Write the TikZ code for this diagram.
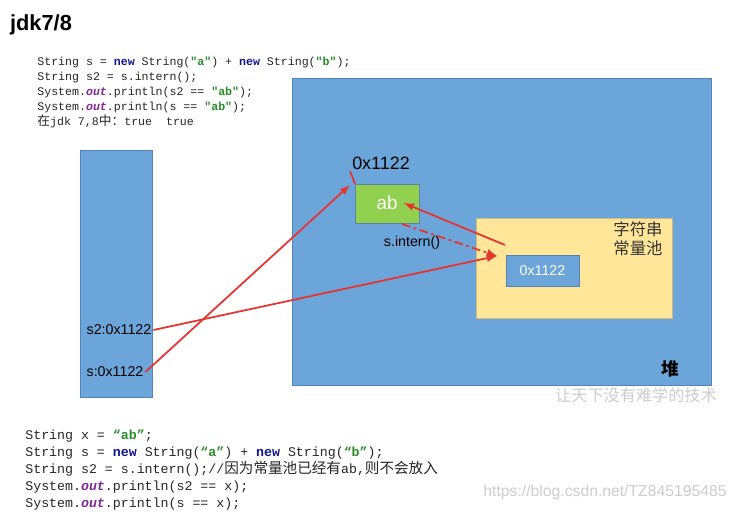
\documentclass[tikz,border=0pt]{standalone}
\usepackage{fontspec}
\setmainfont{Liberation Sans}
\setmonofont{Liberation Mono}
\newfontfamily\cjk{Noto Sans CJK SC}
\newfontfamily\cjkcode[Scale=1.1]{Noto Sans CJK SC}
\usetikzlibrary{arrows,positioning,calc}

\definecolor{stackblue}{RGB}{108,165,218}
\definecolor{edgeblue}{RGB}{82,130,185}
\definecolor{abgreen}{RGB}{146,208,80}
\definecolor{poolyellow}{RGB}{255,230,153}
\definecolor{pooledge}{RGB}{205,185,130}
\definecolor{ptrred}{RGB}{232,52,48}
\definecolor{kwblue}{RGB}{20,20,150}
\definecolor{outpurple}{RGB}{125,40,150}
\definecolor{strgreen}{RGB}{40,140,40}
\definecolor{markgray}{RGB}{205,205,205}

\newcommand{\jkw}[1]{\textcolor{kwblue}{\textbf{#1}}}
\newcommand{\jout}[1]{\textcolor{outpurple}{\textbf{\textit{#1}}}}
\newcommand{\jstr}[1]{\textcolor{strgreen}{\textbf{#1}}}

\begin{document}
\begin{tikzpicture}[x=0.02cm,y=-0.02cm,
    box/.style={draw=edgeblue,fill=stackblue,inner sep=0pt,outer sep=0pt},
    codetop/.style={anchor=base west,inner sep=0pt,text=black!85,font=\ttfamily\fontsize{6.6}{8}\selectfont},
    codebot/.style={anchor=base west,inner sep=0pt,text=black!85,font=\ttfamily\fontsize{7.55}{9}\selectfont},
    tag/.style={inner sep=1pt,font=\fontsize{8.1}{10}\selectfont},
    ptr/.style={draw=ptrred,line width=1pt,-latex}]
  \useasboundingbox[fill=white] (0,0) rectangle (737,511);

  % Title
  \node[font=\bfseries\fontsize{12.4}{14}\selectfont] (title) at (41,25) {jdk7/8};

  % Code before the picture
  \foreach \txt [count=\i] in {
    {String s = \jkw{new} String(\jstr{"a"}) + \jkw{new} String(\jstr{"b"});},
    {String s2 = s.intern();},
    {System.\jout{out}.println(s2 == \jstr{"ab"});},
    {System.\jout{out}.println(s == \jstr{"ab"});},
    {{\cjkcode 在}jdk 7,8{\cjkcode 中：}true\ \ true}} {
    \node[codetop] (top\i) at (37,50+15*\i) {\txt};
  }

  % Stack
  \node[box,minimum width=1.44cm,minimum height=4.94cm] (stack) at (116,273.5) {};
  \node[tag] (s2) at (119,330) {s2:0x1122};
  \node[tag] (s) at (115,372) {s:0x1122};

  % Heap
  \node[box,minimum width=8.38cm,minimum height=6.14cm] (heap) at (501.5,231.5) {};
  \node[font=\cjk\bfseries\fontsize{10}{12}\selectfont] (heaptag) at (670,369) {堆};

  % String object ab
  \node[draw=edgeblue!70!gray,fill=abgreen,inner sep=0pt,outer sep=0pt,
        minimum width=1.28cm,minimum height=0.78cm] (abbox) at (387,203.5) {};
  \node[text=white,font=\fontsize{10.7}{12}\selectfont] (abtxt) at (387,203) {ab};
  \node[inner sep=1pt,font=\fontsize{10.2}{12}\selectfont] (addr) at (381,163) {0x1122};
  \draw[ptrred,line width=1pt] (addr.south west) -- (abbox.north west);

  % String constant pool
  \node[draw=pooledge,fill=poolyellow,inner sep=0pt,outer sep=0pt,
        minimum width=3.92cm,minimum height=2cm] (pool) at (574,268) {};
  \node[align=center,text=black!80,font=\cjk\fontsize{9.3}{11}\selectfont] (pooltag) at (638,239) {字符串\\常量池};
  \node[box,minimum width=1.46cm,minimum height=0.62cm,text=white,
        font=\fontsize{8.1}{10}\selectfont] (ref) at (542.5,270.5) {0x1122};
  \node[tag] (intern) at (412,243) {s.intern()};

  % Pointers
  \coordinate (abin) at (350,185);
  \coordinate (poolin) at (497,256);
  \coordinate (poolout) at (505,245);
  \coordinate (internfrom) at (402,224);
  \draw[ptr] (s.east) -- (abin);
  \draw[ptr] (s2.east) -- (poolin);
  \draw[ptr] (poolout) -- (abtxt.east);
  \draw[ptr,dash pattern=on 5pt off 2pt on 1.5pt off 2pt] (internfrom) -- (poolin);

  % Watermarks
  \node[text=markgray,font=\cjk\fontsize{9.2}{11}\selectfont] (mark1) at (636,395) {让天下没有难学的技术};
  \node[text=markgray,font=\fontsize{8.95}{11}\selectfont] (mark2) at (605,492) {https://blog.csdn.net/TZ845195485};

  % Code after the picture
  \foreach \txt [count=\i] in {
    {String x = \jstr{“ab”};},
    {String s = \jkw{new} String(\jstr{“a”}) + \jkw{new} String(\jstr{“b”});},
    {String s2 = s.intern();//{\cjkcode 因为常量池已经有}ab,{\cjkcode 则不会放入}},
    {System.\jout{out}.println(s2 == x);},
    {System.\jout{out}.println(s == x);}} {
    \node[codebot] (bot\i) at (25,422+17*\i) {\txt};
  }
\end{tikzpicture}
\end{document}
